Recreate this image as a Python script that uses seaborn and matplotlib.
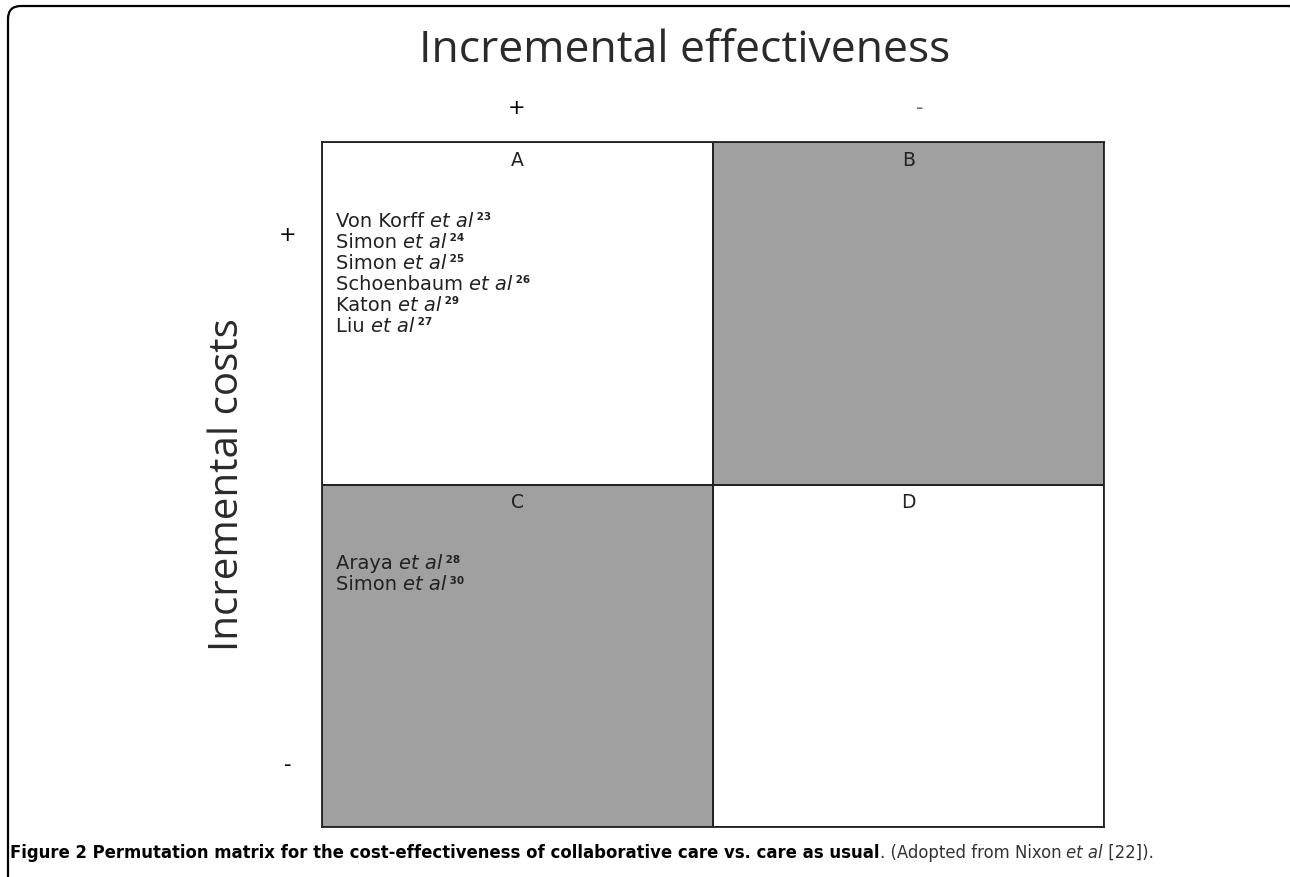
import seaborn as sns
import matplotlib.pyplot as plt
import pandas as pd
from matplotlib.patches import FancyBboxPatch

# quadrant shading: 1 = gray, 0 = white
quadrants = ["A", "B", "C", "D"]
shade = [[0, 1], [1, 0]]
effect_signs = ["+", "-"]
cost_signs = ["+", "-"]

studies_a = ["Von Korff", "Simon", "Simon", "Schoenbaum", "Katon", "Liu"]
refs_a = ["23", "24", "25", "26", "29", "27"]
studies_c = ["Araya", "Simon"]
refs_c = ["28", "30"]

GRAY = "#a0a0a0"
INK = "#222222"

fig = plt.figure(figsize=(12.9, 8.78), dpi=100)
ax = fig.add_axes([322 / 1290, 1 - 828 / 878, 782 / 1290, 685 / 878])

grid = pd.DataFrame(shade, index=cost_signs, columns=effect_signs)
sns.heatmap(grid, ax=ax, cmap=["white", GRAY], cbar=False,
            linewidths=1.2, linecolor=INK, xticklabels=False, yticklabels=False)
for s in ax.spines.values():
    s.set_visible(True)
    s.set_linewidth(1.3)
    s.set_color(INK)

# quadrant letters
for i, q in enumerate(quadrants):
    col, row = i % 2, i // 2
    ax.text(col + 0.5, row + 0.05, q, ha="center", va="center",
            fontsize=13.5, color=INK)


def study_list(names, refs, x0, y0, step=0.0613):
    for k, (name, ref) in enumerate(zip(names, refs)):
        t = ax.text(x0, y0 + k * step, name + " ", ha="left", va="baseline",
                    fontsize=14, color=INK)
        t2 = ax.annotate("et al", xy=(1, 0), xycoords=t, ha="left", va="bottom",
                         fontsize=14, style="italic", color=INK)
        ax.annotate(" " + ref, xy=(1, 0.45), xycoords=t2, ha="left", va="bottom",
                    fontsize=7.5, fontweight="bold", color=INK)


study_list(studies_a, refs_a, 0.035, 0.245)
study_list(studies_c, refs_c, 0.035, 1.245)

# axis titles and signs
fig.text(685 / 1290, 1 - 51 / 878, "Incremental effectiveness", ha="center", va="center",
         fontsize=32, family="Open Sans", color="#2a2a2a")
fig.text(517 / 1290, 1 - 108 / 878, effect_signs[0], ha="center", va="center", fontsize=15)
fig.text(920 / 1290, 1 - 108 / 878, effect_signs[1], ha="center", va="center", fontsize=15,
         color="#777777")
fig.text(228 / 1290, 1 - 485 / 878, "Incremental costs", ha="center", va="center",
         rotation=90, fontsize=29, family="Open Sans", color="#2a2a2a")
fig.text(288 / 1290, 1 - 235 / 878, cost_signs[0], ha="center", va="center", fontsize=15)
fig.text(288 / 1290, 1 - 765 / 878, cost_signs[1], ha="center", va="center", fontsize=15)

# caption
cap_size = 11.9
c1 = fig.text(10 / 1290, 1 - 858 / 878,
              "Figure 2 Permutation matrix for the cost-effectiveness of collaborative care vs. care as usual",
              ha="left", va="baseline", fontsize=cap_size, fontweight="bold")
p1 = ax.annotate(". (Adopted from Nixon ", xy=(1, 0), xycoords=c1, ha="left", va="bottom",
                 fontsize=cap_size, color="#333333", annotation_clip=False)
p2 = ax.annotate("et al", xy=(1, 0), xycoords=p1, ha="left", va="bottom",
                 fontsize=cap_size, style="italic", color="#333333", annotation_clip=False)
ax.annotate(" [22]).", xy=(1, 0), xycoords=p2, ha="left", va="bottom",
            fontsize=cap_size, color="#333333", annotation_clip=False)

# outer rounded frame, cropped at right and bottom like the source page
frame = FancyBboxPatch((0.08, -0.15), 12.95, 8.78 - 0.07 + 0.15,
                       boxstyle="round,pad=0,rounding_size=0.13",
                       transform=fig.dpi_scale_trans, fill=False, lw=1.6,
                       edgecolor="black", clip_on=False)
fig.patches.append(frame)

plt.savefig("out.png", dpi=100)
plt.close()
